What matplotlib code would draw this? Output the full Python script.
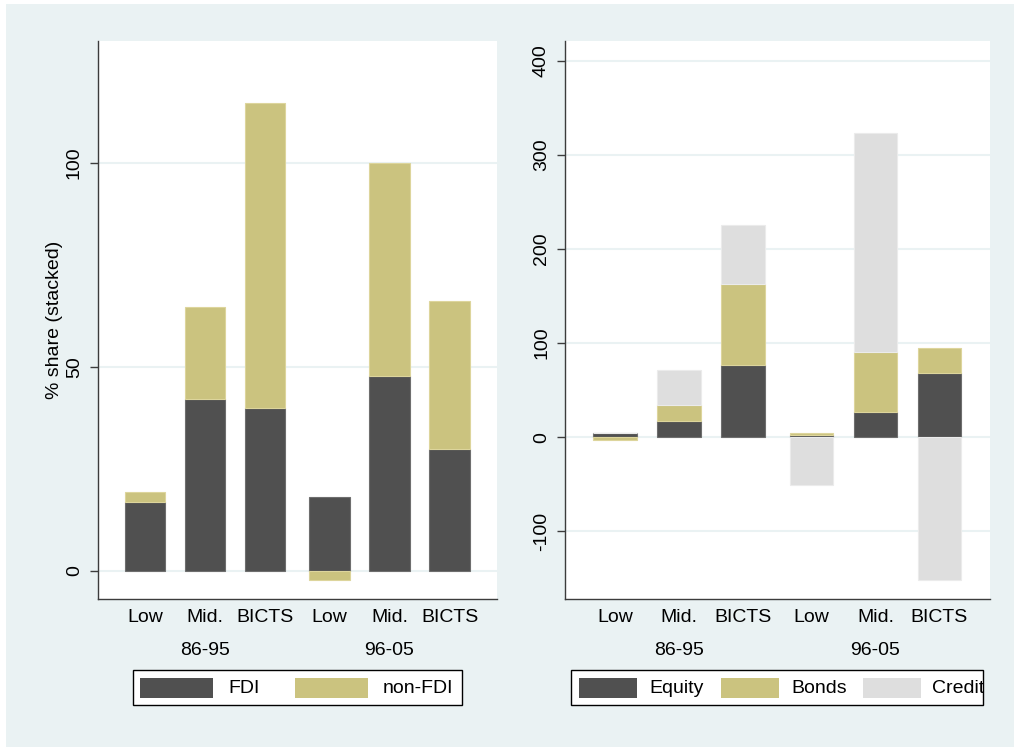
import matplotlib
matplotlib.use("Agg")
import matplotlib.pyplot as plt
from matplotlib.patches import Rectangle
import numpy as np

plt.rcParams["font.family"] = ["Liberation Sans", "DejaVu Sans"]

# Categories and groups
categories = ["Low", "Mid.", "BICTS", "Low", "Mid.", "BICTS"]
periods = ["86-95", "96-05"]

# Left panel: FDI vs non-FDI shares
fdi = [16.8, 42.2, 39.9, 18.1, 47.8, 29.9]
non_fdi = [2.6, 22.5, 74.7, -2.2, 52.1, 36.3]

# Right panel: non-FDI components
equity = [5.0, 17.3, 77.0, 2.5, 26.9, 68.3]
bonds = [-2.7, 17.0, 86.0, 2.4, 63.7, 26.3]
credit = [0.0, 37.2, 62.6, -50.4, 233.1, -151.6]

left_ticks = [0, 50, 100]
right_ticks = [-100, 0, 100, 200, 300, 400]

W_PX, H_PX = 1014, 747
BG = "#eaf2f3"
DARK, TAN, LIGHT = "#505050", "#cbc37f", "#dedede"
EDGES = {DARK: "#6e6e6e", TAN: "#ddd59c", LIGHT: "#ebebeb"}
AXIS_COL = "#3c3c3c"
FS = 14


def fx(x):
    return x / W_PX


def fy(y):
    return 1 - y / H_PX


fig = plt.figure(figsize=(W_PX / 100, H_PX / 100), dpi=100, facecolor="white")
fig.add_artist(Rectangle((fx(6), 0), 1 - fx(6), fy(4), transform=fig.transFigure,
                         facecolor=BG, edgecolor="none", zorder=-10))

# bar positions: two groups of three with a small gap between groups
gap = 0.07
xpos = np.array([0, 1, 2, 3 + gap, 4 + gap, 5 + gap])
width = 0.675


def stacked_bars(ax, series, colors):
    pos = np.zeros(len(xpos))
    neg = np.zeros(len(xpos))
    for vals, col in zip(series, colors):
        v = np.asarray(vals, dtype=float)
        base = np.where(v >= 0, pos, neg)
        ax.bar(xpos, v, width=width, bottom=base, color=col,
               edgecolor=EDGES[col], linewidth=0.8, zorder=3)
        pos = pos + np.clip(v, 0, None)
        neg = neg + np.clip(v, None, 0)


def style_axes(ax, ticks, ylim):
    ax.set_facecolor("white")
    ax.set_xlim(-0.78, 5.86)
    ax.set_ylim(*ylim)
    ax.set_xticks([])
    ax.set_yticks(ticks)
    ax.set_yticklabels([str(t) for t in ticks])
    for lab in ax.get_yticklabels():
        lab.set_rotation(90)
        lab.set_va("center")
        lab.set_ha("right")
    ax.tick_params(axis="y", length=5.8, width=1.0, color=AXIS_COL,
                   labelsize=FS, pad=5, labelcolor="black")
    ax.yaxis.grid(True, color=BG, linewidth=1.5)
    ax.set_axisbelow(True)
    for s in ("top", "right"):
        ax.spines[s].set_visible(False)
    for s in ("left", "bottom"):
        ax.spines[s].set_color(AXIS_COL)
        ax.spines[s].set_linewidth(1.0)
    trans = ax.get_xaxis_transform()
    for x, lab in zip(xpos, categories):
        ax.text(x, -0.034, lab, transform=trans, ha="center", va="center",
                fontsize=FS, clip_on=False)
    for i, p in enumerate(periods):
        ax.text(xpos[3 * i + 1], -0.0914, p, transform=trans, ha="center",
                va="center", fontsize=FS, clip_on=False)


ax_top, ax_bot = 41, 599
axL = fig.add_axes([fx(98), fy(ax_bot), fx(497) - fx(98), fy(ax_top) - fy(ax_bot)])
axR = fig.add_axes([fx(565), fy(ax_bot), fx(990) - fx(565), fy(ax_top) - fy(ax_bot)])

stacked_bars(axL, [fdi, non_fdi], [DARK, TAN])
style_axes(axL, left_ticks, (-6.86, 129.9))

stacked_bars(axR, [equity, bonds, credit], [DARK, TAN, LIGHT])
style_axes(axR, right_ticks, (-171.8, 421))

fig.text(fx(54.5), fy(320), "% share (stacked)", rotation=90, ha="center",
         va="center", fontsize=FS)


def draw_legend(box, entries):
    x0, y0, x1, y1 = box
    frame = Rectangle((fx(x0), fy(y1)), fx(x1) - fx(x0), fy(y0) - fy(y1),
                      transform=fig.transFigure, facecolor="white",
                      edgecolor="black", linewidth=1.0, zorder=5)
    fig.add_artist(frame)
    for px, pw, tx, label, col in entries:
        fig.add_artist(Rectangle((fx(px), fy(697.7)), pw / W_PX, 19.4 / H_PX,
                                 transform=fig.transFigure, facecolor=col,
                                 edgecolor="none", zorder=6))
        t = fig.text(fx(tx), fy(688.5), label, ha="left", va="center",
                     fontsize=FS, zorder=7)
        t.set_clip_path(frame)


draw_legend((132.7, 669.7, 462.3, 705.3),
            [(140, 73, 228, "FDI", DARK), (295, 73, 383, "non-FDI", TAN)])
draw_legend((570.7, 669.7, 982.7, 705.3),
            [(579, 58, 649, "Equity", DARK), (720.7, 58, 791, "Bonds", TAN),
             (862.7, 58, 932, "Credit", LIGHT)])

fig.savefig("out.png", dpi=100, facecolor="white")
